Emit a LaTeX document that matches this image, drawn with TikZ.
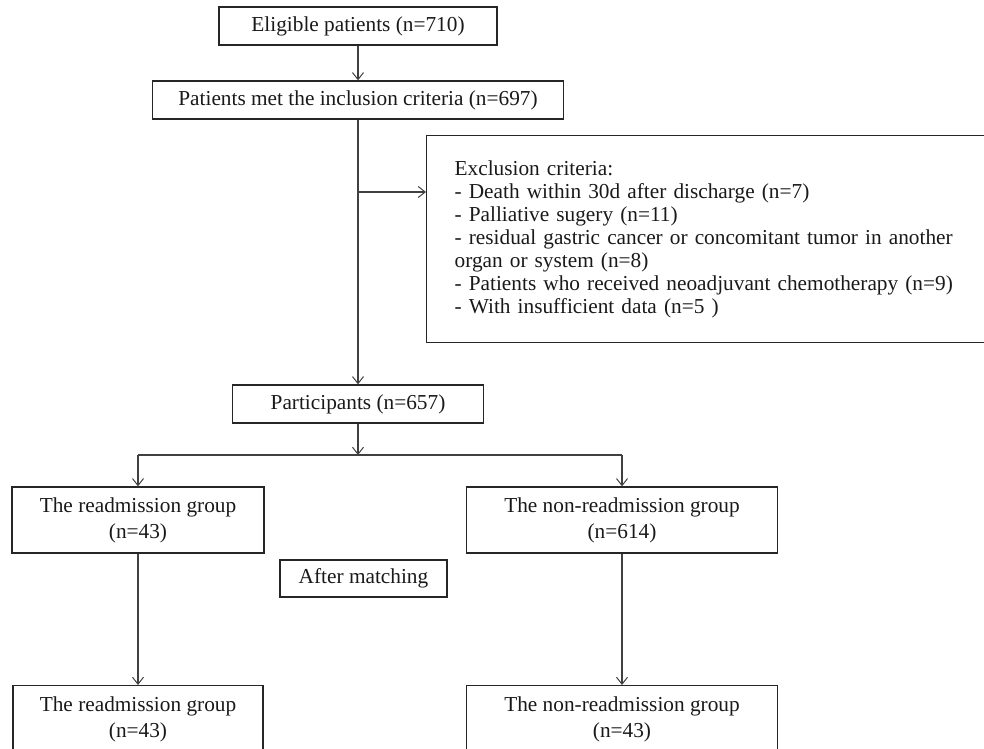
\documentclass[tikz,border=0pt]{standalone}
\usepackage{fontspec}
\setmainfont{Liberation Serif}
\usetikzlibrary{arrows.meta}
\begin{document}
\begin{tikzpicture}[x=1pt,y=-1pt,
  box/.style={draw=black!85,line width=1.3pt,rectangle,inner sep=0pt,align=center,
    font=\fontsize{21.3}{26}\selectfont,text=black!90},
  conn/.style={draw=black!75,line width=1.1pt},
  arr/.style={conn,-{Straight Barb[length=7pt,width=11pt,line width=1pt]}}]
\useasboundingbox (0,0) rectangle (984,748);
\clip (0,0) rectangle (984,748);
\node[box,minimum width=278pt,minimum height=38pt] (elig) at (358,26) {Eligible patients (n=710)};
\node[box,minimum width=411pt,minimum height=38pt] (incl) at (358,100) {Patients met the inclusion criteria (n=697)};
\node[box,anchor=north west,minimum width=600pt,minimum height=207pt,align=left,
  text width=572pt,inner xsep=28pt,font=\fontsize{21.3}{23}\selectfont] (excl) at (426,135)
  {Exclusion criteria:\\
   - Death within 30d after discharge (n=7)\\
   - Palliative sugery (n=11)\\
   - residual gastric cancer or concomitant tumor in another\\
   organ or system (n=8)\\
   - Patients who received neoadjuvant chemotherapy (n=9)\\
   - With insufficient data (n=5 )};
\node[box,minimum width=251pt,minimum height=38pt] (part) at (358,404) {Participants (n=657)};
\node[box,minimum width=252pt,minimum height=66pt] (readm) at (138,520) {The readmission group\\(n=43)};
\node[box,minimum width=311pt,minimum height=66pt] (nonre) at (622,520) {The non-readmission group\\(n=614)};
\node[box,minimum width=167pt,minimum height=37pt] (match) at (363.5,578.5) {After matching};
\node[box,anchor=north,minimum width=250pt,minimum height=68pt] (readm2) at (138,685) {The readmission group\\(n=43)};
\node[box,anchor=north,minimum width=311pt,minimum height=68pt] (nonre2) at (622,685) {The non-readmission group\\(n=43)};
\coordinate (br) at (358,192);
\coordinate (sp) at (358,455);
\coordinate (spl) at (138,455);
\coordinate (spr) at (622,455);
\draw[arr] (elig.south) -- (incl.north);
\draw[arr] (incl.south) -- (part.north);
\draw[arr] (br) -- (br -| excl.west);
\draw[arr] (part.south) -- (sp);
\draw[conn] (spl) -- (spr);
\draw[arr] (spl) -- (readm.north);
\draw[arr] (spr) -- (nonre.north);
\draw[arr] (readm.south) -- (readm2.north);
\draw[arr] (nonre.south) -- (nonre2.north);
\end{tikzpicture}
\end{document}
